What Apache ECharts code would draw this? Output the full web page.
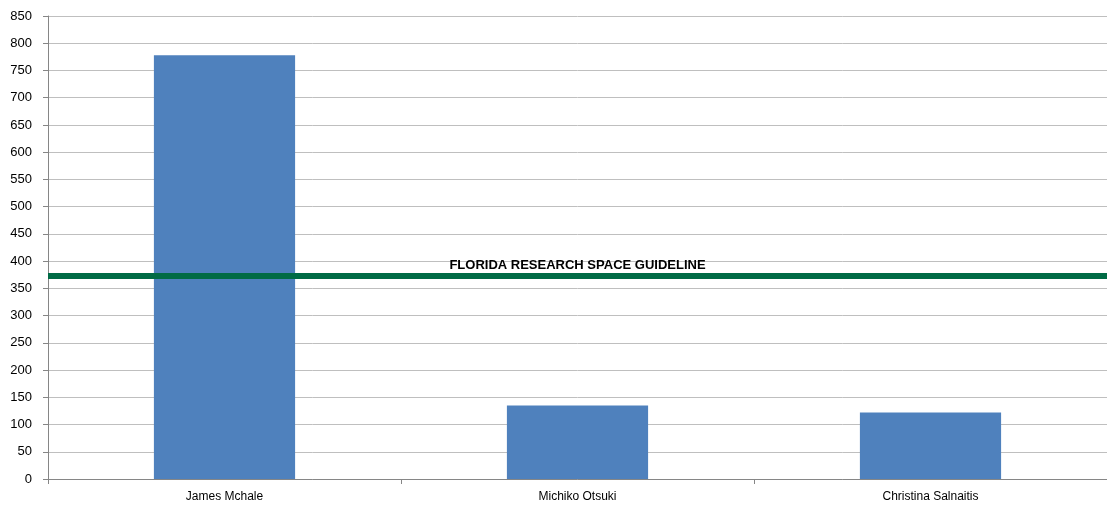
<!DOCTYPE html>
<html>
<head>
<meta charset="utf-8">
<script src="https://cdn.jsdelivr.net/npm/echarts@6/dist/echarts.min.js"></script>
<style>html,body{margin:0;padding:0;background:#fff;overflow:hidden}#c{width:1107px;height:506px}</style>
</head>
<body>
<div id="c"></div>
<script>
const categories = ['James Mchale', 'Michiko Otsuki', 'Christina Salnaitis'];
const values = [778, 135, 122];
const guidelineValue = 373;
const guidelineLabel = 'FLORIDA RESEARCH SPACE GUIDELINE';

const chart = echarts.init(document.getElementById('c'), null, {renderer: 'canvas'});
chart.setOption({
  animation: false,
  backgroundColor: '#fff',
  grid: {left: 48, right: -4, top: 16, bottom: 27, containLabel: false},
  xAxis: {
    type: 'category',
    data: categories,
    axisLine: {lineStyle: {color: '#868686', width: 1}},
    axisTick: {show: true, alignWithLabel: false, length: 5, lineStyle: {color: '#868686'}},
    axisLabel: {fontFamily: 'Liberation Sans, Arial, sans-serif', fontSize: 12, color: '#000', margin: 12}
  },
  yAxis: {
    type: 'value',
    min: 0, max: 850, interval: 50,
    axisLine: {show: true, lineStyle: {color: '#868686', width: 1}},
    axisTick: {show: true, length: 5, lineStyle: {color: '#868686'}},
    splitLine: {lineStyle: {color: '#BFBFBF', width: 1}},
    axisLabel: {fontFamily: 'Liberation Sans, Arial, sans-serif', fontSize: 13, color: '#000', margin: 16}
  },
  series: [{
    type: 'bar',
    data: values,
    barCategoryGap: '60%',
    itemStyle: {color: '#4F81BD'},
    markLine: {
      symbol: 'none',
      silent: true,
      data: [{yAxis: guidelineValue}],
      lineStyle: {color: '#006B45', width: 6, type: 'solid'},
      label: {
        show: true,
        position: 'insideMiddleTop',
        formatter: guidelineLabel,
        fontFamily: 'Liberation Sans, Arial, sans-serif',
        fontWeight: 'bold',
        fontSize: 13,
        color: '#000',
        distance: 4
      }
    }
  }]
});
</script>
</body>
</html>
